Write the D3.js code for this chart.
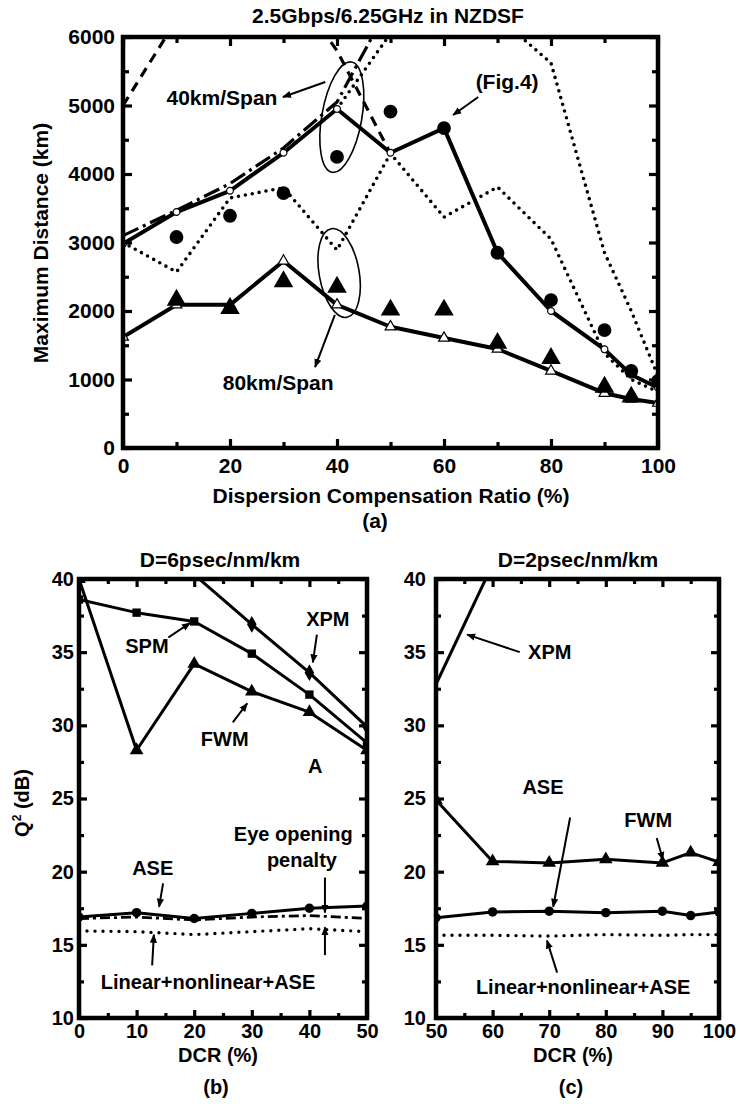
<!DOCTYPE html>
<html>
<head>
<meta charset="utf-8">
<script src="https://cdn.jsdelivr.net/npm/d3@7"></script>
<style>
  body { margin: 0; background: #fff; }
  svg { display: block; background: #fff; }
  text { font-family: "Liberation Sans", Arial, sans-serif; font-weight: bold; fill: #000; }
</style>
</head>
<body>
<div class="chart"></div>
<script>

// ---------- (a) maximum distance vs DCR, 2.5Gbps/6.25GHz NZDSF
const dcrA = [0, 10, 20, 30, 40, 50, 60, 70, 80, 90, 95, 100]
const line40 = [2980, 3445, 3755, 4310, 4950, 4310, 4670, 2850, 2000, 1440, 1070, 880]
const line80 = [1620, 2090, 2090, 2730, 2090, 1770, 1605, 1445, 1125, 800, 715, 655]
const dotted80 = [3000, 2570, 3650, 3800, 2890, 4300, 3370, 3810, 3050, 1380, 1000, 820]

const circ40X = [10, 20, 30, 40, 50, 60, 70, 80, 90, 95, 100]
const circ40Y = [3080, 3390, 3720, 4250, 4910, 4670, 2850, 2160, 1720, 1125, 980]
const tri80X = [10, 20, 30, 40, 50, 60, 70, 80, 90, 95]
const tri80Y = [2160, 2040, 2430, 2350, 2015, 2015, 1530, 1310, 890, 745]

const dashDotX = [0, 10, 20, 30, 40, 50]
const dashDotY = [3100, 3470, 3860, 4380, 5050, 6500]
const dashedX = [0, 10, 20, 30, 40, 50]
const dashedY = [5000, 6250, 6900, 6900, 5800, 4300]
const dotOuterX = [40, 50, 60, 70, 80, 90, 95, 100]
const dotOuterY = [4950, 6050, 6600, 6300, 5620, 2850, 2000, 1050]

const xTicksA = [0, 20, 40, 60, 80, 100]
const yTicksA = [0, 1000, 2000, 3000, 4000, 5000, 6000]

// ---------- (b) Q2 vs DCR, D=6psec/nm/km
const dcrB = [0, 10, 20, 30, 40, 50]
const spmB = [38.6, 37.7, 37.1, 34.9, 32.1, 28.8]
const fwmB = [40.0, 28.3, 34.2, 32.3, 30.9, 28.3]
const aseB = [16.9, 17.2, 16.8, 17.15, 17.5, 17.65]
const eyeB = [16.8, 16.9, 16.7, 16.9, 17.0, 16.8]
const totalB = [15.95, 15.9, 15.7, 15.9, 16.1, 15.9]
const xpmBX = [20, 30, 40, 50]
const xpmBY = [40.3, 36.9, 33.6, 29.9]

// ---------- (c) Q2 vs DCR, D=2psec/nm/km
const dcrC = [50, 60, 70, 80, 90, 95, 100]
const fwmC = [24.9, 20.7, 20.6, 20.85, 20.6, 21.3, 20.65]
const aseC = [16.85, 17.25, 17.3, 17.2, 17.3, 17.0, 17.25]
const totalC = [15.65, 15.65, 15.6, 15.7, 15.65, 15.7, 15.7]
const xpmCX = [50, 60]
const xpmCY = [32.8, 41.0]

const xTicksB = [0, 10, 20, 30, 40, 50]
const xTicksC = [50, 60, 70, 80, 90, 100]
const yTicksQ = [10, 15, 20, 25, 30, 35, 40]

const FONT = '"Liberation Sans", Arial, sans-serif'

const svg = d3.select(".chart")
    .append("svg")
    .attr("width", 740)
    .attr("height", 1104)

const defs = svg.append("defs")
defs.append("marker")
    .attr("id", "head")
    .attr("viewBox", "0 0 10 10")
    .attr("refX", 9)
    .attr("refY", 5)
    .attr("markerWidth", 9)
    .attr("markerHeight", 9)
    .attr("markerUnits", "userSpaceOnUse")
    .attr("orient", "auto")
    .append("path")
    .attr("d", "M0,1L10,5L0,9z")

function panel(id, xDomain, yDomain, xRange, yRange) {
    const x = d3.scaleLinear().domain(xDomain).range(xRange)
    const y = d3.scaleLinear().domain(yDomain).range(yRange)
    const g = svg.append("g")
    defs.append("clipPath").attr("id", id)
        .append("rect")
        .attr("x", xRange[0])
        .attr("y", yRange[1])
        .attr("width", xRange[1] - xRange[0])
        .attr("height", yRange[0] - yRange[1])
    const plot = g.append("g").attr("clip-path", `url(#${id})`)
    return {g, plot, x, y}
}

function axes(p, xMaj, xMin, yMaj, yMin, o) {
    const [x0, x1] = p.x.range()
    const [y0, y1] = p.y.range()
    const g = p.g.append("g")
    const fmt = d3.format("d")
    const sides = [
        [d3.axisBottom(p.x), `translate(0,${y0})`, xMaj, xMin, o.xPad],
        [d3.axisTop(p.x), `translate(0,${y1})`, xMaj, xMin, null],
        [d3.axisLeft(p.y), `translate(${x0},0)`, yMaj, yMin, o.yPad],
        [d3.axisRight(p.y), `translate(${x1},0)`, yMaj, yMin, null]
    ]
    sides.forEach(([ax, tr, maj, min, pad]) => {
        g.append("g")
            .attr("transform", tr)
            .call(ax.tickValues(min).tickSize(-o.minor).tickFormat(""))
        g.append("g")
            .attr("transform", tr)
            .call(ax.tickValues(maj).tickSize(-o.major)
                .tickPadding(pad == null ? 3 : pad)
                .tickFormat(pad == null ? "" : fmt))
    })
    g.selectAll(".domain").remove()
    g.selectAll("g").attr("font-family", FONT).attr("font-size", o.font)
    g.selectAll(".tick line").attr("stroke", "#000").attr("stroke-width", 3.2)
    g.selectAll(".tick text").attr("fill", "#000")
    // frame
    p.g.append("rect")
        .attr("x", x0).attr("y", y1)
        .attr("width", x1 - x0).attr("height", y0 - y1)
        .attr("fill", "none").attr("stroke", "#000").attr("stroke-width", 4.5)
}

function series(p, xs, ys, width, dash) {
    const line = d3.line().x(d => p.x(d[0])).y(d => p.y(d[1]))
    p.plot.append("path")
        .datum(d3.zip(xs, ys))
        .attr("d", line)
        .attr("fill", "none")
        .attr("stroke", "#000")
        .attr("stroke-width", width)
        .attr("stroke-linecap", dash && dash.startsWith("0") ? "round" : "butt")
        .attr("stroke-linejoin", "round")
        .attr("stroke-dasharray", dash || null)
}

function marks(p, xs, ys, type, size, fill, sw) {
    p.plot.selectAll(null)
        .data(d3.zip(xs, ys))
        .join("path")
        .attr("transform", d => `translate(${p.x(d[0])},${p.y(d[1])})`)
        .attr("d", d3.symbol(type, size))
        .attr("fill", fill)
        .attr("stroke", "#000")
        .attr("stroke-width", sw)
}

function notes(p, list, size) {
    p.g.selectAll(null)
        .data(list)
        .join("text")
        .attr("x", d => p.x(d.x))
        .attr("y", d => p.y(d.y))
        .attr("dy", "0.35em")
        .attr("text-anchor", "middle")
        .attr("font-size", size)
        .text(d => d.t)
}

function arrows(p, list) {
    p.g.selectAll(null)
        .data(list)
        .join("line")
        .attr("x1", d => p.x(d.from[0]))
        .attr("y1", d => p.y(d.from[1]))
        .attr("x2", d => p.x(d.to[0]))
        .attr("y2", d => p.y(d.to[1]))
        .attr("stroke", "#000")
        .attr("stroke-width", 2)
        .attr("marker-end", "url(#head)")
}

function label(text, x, y, size, rotate) {
    return svg.append("text")
        .attr("transform", `translate(${x},${y})` + (rotate ? " rotate(-90)" : ""))
        .attr("text-anchor", "middle")
        .attr("font-size", size)
        .text(text)
}

// ===== panel (a)
const a = panel("clipA", [0, 100], [0, 6000], [123, 658], [448, 37])

series(a, dcrA, dotted80, 3.6, "0,7")
series(a, dotOuterX, dotOuterY, 3.6, "0,7")
series(a, dashedX, dashedY, 3.2, "10,7")
series(a, dashDotX, dashDotY, 3.2, "17,5,3,5")
series(a, dcrA, line40, 4)
series(a, dcrA, line80, 4)
marks(a, dcrA, line40, d3.symbolCircle, 36, "#fff", 1.2)
marks(a, dcrA, line80, d3.symbolTriangle, 50, "#fff", 1.2)
marks(a, circ40X, circ40Y, d3.symbolCircle, 150, "#000", 0)
marks(a, tri80X, tri80Y, d3.symbolTriangle, 165, "#000", 0)

axes(a, xTicksA, [10, 30, 50, 70, 90], yTicksA, [500, 1500, 2500, 3500, 4500, 5500],
    {major: 9, minor: 6, xPad: 10, yPad: 8, font: 21})

a.g.selectAll(null)
    .data([{cx: 40.9, cy: 4830, rx: 20, ry: 56, rot: 10}, {cx: 40.4, cy: 2555, rx: 20, ry: 45, rot: -10}])
    .join("ellipse")
    .attr("transform", d => `translate(${a.x(d.cx)},${a.y(d.cy)}) rotate(${d.rot})`)
    .attr("rx", d => d.rx)
    .attr("ry", d => d.ry)
    .attr("fill", "none")
    .attr("stroke", "#000")
    .attr("stroke-width", 1.6)

arrows(a, [
    {from: [37.8, 5343], to: [29.9, 5124]},
    {from: [39.6, 1942], to: [35.9, 1182]},
    {from: [66.4, 5124], to: [61.7, 4861]}
])
notes(a, [
    {t: "40km/Span", x: 18.5, y: 5110},
    {t: "80km/Span", x: 29, y: 950},
    {t: "(Fig.4)", x: 71.8, y: 5343}
], 21)

label("2.5Gbps/6.25GHz in NZDSF", 388, 23, 21)
label("Maximum Distance (km)", 48, 243, 21, true)
label("Dispersion Compensation Ratio (%)", 391, 503, 21)
label("(a)", 375, 528, 21)

// ===== panel (b)
const b = panel("clipB", [0, 50], [10, 40], [79, 367], [1018, 579])

series(b, dcrB, totalB, 3.4, "0,8")
series(b, dcrB, eyeB, 2.8, "10,4,3,4")
series(b, dcrB, aseB, 3)
series(b, dcrB, fwmB, 3)
series(b, dcrB, spmB, 3)
series(b, xpmBX, xpmBY, 3)
marks(b, dcrB, aseB, d3.symbolCircle, 70, "#000", 0)
marks(b, dcrB, fwmB, d3.symbolTriangle, 80, "#000", 0)
marks(b, dcrB, spmB, d3.symbolSquare, 70, "#000", 0)
marks(b, xpmBX, xpmBY, d3.symbolDiamond, 80, "#000", 0)

axes(b, xTicksB, [5, 15, 25, 35, 45], yTicksQ, [12.5, 17.5, 22.5, 27.5, 32.5, 37.5],
    {major: 8, minor: 5, xPad: 6, yPad: 5, font: 20})

arrows(b, [
    {from: [41.3, 36.2], to: [40.6, 34.3]},
    {from: [15.5, 36.0], to: [19.3, 37.0]},
    {from: [26.7, 30.2], to: [29.2, 31.5]},
    {from: [14.6, 19.2], to: [13.9, 17.6]},
    {from: [42.7, 19.6], to: [42.7, 17.2]},
    {from: [42.7, 14.3], to: [42.7, 16.2]},
    {from: [12.7, 13.6], to: [13.0, 15.7]}
])
notes(b, [
    {t: "XPM", x: 43.2, y: 37.3},
    {t: "SPM", x: 11.8, y: 35.4},
    {t: "FWM", x: 25.3, y: 29.1},
    {t: "A", x: 41, y: 27.2},
    {t: "ASE", x: 12.8, y: 20.25},
    {t: "Eye opening", x: 37.2, y: 22.6},
    {t: "penalty", x: 38.7, y: 20.8},
    {t: "Linear+nonlinear+ASE", x: 22.4, y: 12.45}
], 20)

label("D=6psec/nm/km", 220, 567, 21)
label("DCR (%)", 218, 1062, 20)
label("(b)", 216, 1094, 20)

const q = svg.append("text")
    .attr("transform", "translate(29,803) rotate(-90)")
    .attr("text-anchor", "middle")
    .attr("font-size", 20)
q.append("tspan").text("Q")
q.append("tspan").attr("font-size", 12).attr("dy", -8).text("2")
q.append("tspan").attr("dy", 8).text(" (dB)")

// ===== panel (c)
const c = panel("clipC", [50, 100], [10, 40], [436, 719], [1018, 579])

series(c, dcrC, totalC, 3.4, "0,8")
series(c, dcrC, aseC, 3)
series(c, dcrC, fwmC, 3)
series(c, xpmCX, xpmCY, 3)
marks(c, dcrC, aseC, d3.symbolCircle, 70, "#000", 0)
marks(c, dcrC, fwmC, d3.symbolTriangle, 80, "#000", 0)

axes(c, xTicksC, [55, 65, 75, 85, 95], yTicksQ, [12.5, 17.5, 22.5, 27.5, 32.5, 37.5],
    {major: 8, minor: 5, xPad: 6, yPad: 10, font: 20})

arrows(c, [
    {from: [64.8, 35.0], to: [55.5, 36.2]},
    {from: [73.7, 23.7], to: [70.7, 17.6]},
    {from: [89.0, 22.3], to: [90.1, 20.8]},
    {from: [71.4, 13.1], to: [69.6, 15.3]}
])
notes(c, [
    {t: "XPM", x: 70.1, y: 35.0},
    {t: "ASE", x: 68.9, y: 25.8},
    {t: "FWM", x: 87.5, y: 23.5},
    {t: "Linear+nonlinear+ASE", x: 76, y: 12.1}
], 20)

label("D=2psec/nm/km", 578, 567, 21)
label("DCR (%)", 573, 1062, 20)
label("(c)", 571, 1094, 20)

</script>
</body>
</html>
